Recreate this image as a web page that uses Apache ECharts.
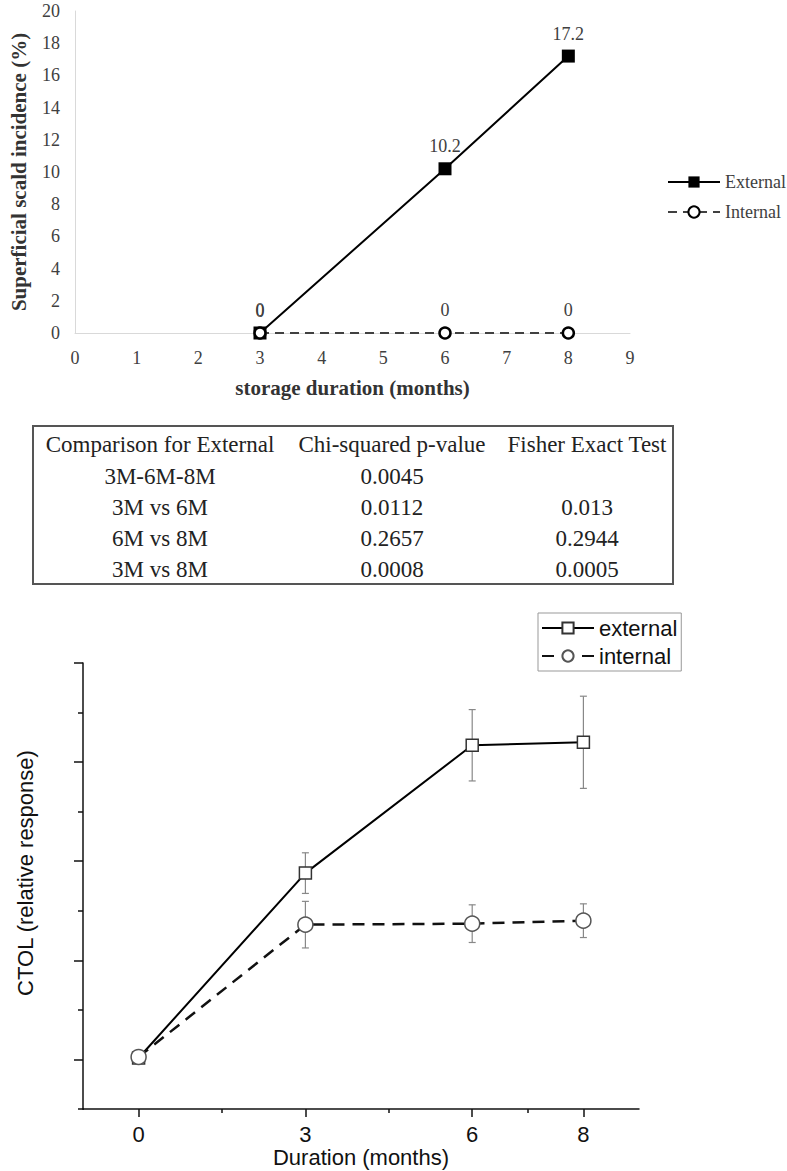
<!DOCTYPE html>
<html>
<head>
<meta charset="utf-8">
<script src="https://cdn.jsdelivr.net/npm/echarts@6/dist/echarts.min.js"></script>
<style>
  html, body { margin: 0; padding: 0; background: #fff; }
  #chart { width: 787px; height: 1171px; }
</style>
</head>
<body>
<div id="chart"></div>
<script>
// ---------- Top chart data ----------
const topMonths = [3, 6, 8];
const topExternal = [0, 10.2, 17.2];
const topInternal = [0, 0, 0];
const topXTicks = [0, 1, 2, 3, 4, 5, 6, 7, 8, 9];
const topYTicks = [0, 2, 4, 6, 8, 10, 12, 14, 16, 18, 20];

// ---------- Table data ----------
const tableHeader = ['Comparison for External', 'Chi-squared p-value', 'Fisher Exact Test'];
const tableComparisons = ['3M-6M-8M', '3M vs 6M', '6M vs 8M', '3M vs 8M'];
const tableChiSquared = ['0.0045', '0.0112', '0.2657', '0.0008'];
const tableFisher = ['', '0.013', '0.2944', '0.0005'];

// ---------- Bottom chart data ----------
const botMonths = [0, 3, 6, 8];
const botExtMean = [0.015, 1.88, 3.17, 3.20];
const botExtErr = [0.03, 0.205, 0.36, 0.465];
const botIntMean = [0.025, 1.36, 1.37, 1.40];
const botIntErr = [0.03, 0.235, 0.19, 0.17];
const botMajorX = [0, 3, 6, 8];
const botMinorX = [1.5, 4.5, 7];
const botMajorY = [0, 1, 2, 3, 4];
const botMinorY = [0.5, 1.5, 2.5, 3.5];

const serif = 'Liberation Serif';
const sans = 'Liberation Sans';

function errData(means, errs) {
  return botMonths.map((m, i) => [m, means[i] - errs[i], means[i] + errs[i]]);
}
function errRender(params, api) {
  const x = api.value(0), lo = api.value(1), hi = api.value(2);
  const p1 = api.coord([x, hi]);
  const p2 = api.coord([x, lo]);
  const w = 3.5;
  const st = { stroke: '#888', lineWidth: 1.2 };
  return {
    type: 'group',
    children: [
      { type: 'line', shape: { x1: p1[0], y1: p1[1], x2: p2[0], y2: p2[1] }, style: st },
      { type: 'line', shape: { x1: p1[0] - w, y1: p1[1], x2: p1[0] + w, y2: p1[1] }, style: st },
      { type: 'line', shape: { x1: p2[0] - w, y1: p2[1], x2: p2[0] + w, y2: p2[1] }, style: st }
    ]
  };
}

// table graphics
const colX = [160, 392, 587];
const rowY = [444, 476, 507, 538, 569];
const tableGraphics = [{
  type: 'rect',
  shape: { x: 33, y: 426, width: 640, height: 158 },
  style: { fill: 'none', stroke: '#555', lineWidth: 2 }
}];
const tableStyle = { fontFamily: serif, fontSize: 23, fill: '#222', align: 'center', verticalAlign: 'middle' };
tableHeader.forEach((t, c) => {
  tableGraphics.push({ type: 'text', x: colX[c], y: rowY[0], style: Object.assign({ text: t }, tableStyle) });
});
tableComparisons.forEach((t, r) => {
  const cells = [t, tableChiSquared[r], tableFisher[r]];
  cells.forEach((v, c) => {
    if (v !== '') tableGraphics.push({ type: 'text', x: colX[c], y: rowY[r + 1], style: Object.assign({ text: v }, tableStyle) });
  });
});
tableGraphics.push({
  type: 'text', x: 25, y: 873, rotation: Math.PI / 2,
  style: { text: 'CTOL (relative response)', fontFamily: sans, fontSize: 22, fill: '#111', align: 'center', verticalAlign: 'middle' }
});
// short extension of the lower x axis line left of the y axis
tableGraphics.push({
  type: 'line', shape: { x1: 78, y1: 1109, x2: 84, y2: 1109 },
  style: { stroke: '#111', lineWidth: 1.5 }
});

const chart = echarts.init(document.getElementById('chart'), null, { renderer: 'svg' });

const topLabel = { show: true, position: 'top', distance: 7, fontFamily: serif, fontSize: 18, color: '#404040' };

const option = {
  animation: false,
  backgroundColor: '#fff',
  grid: [
    { left: 70, right: 157, top: 11, bottom: 838 },
    { left: 83, right: 148, top: 663, bottom: 62 }
  ],
  xAxis: [
    {
      type: 'value', gridIndex: 0, min: 0, max: 9, interval: 1,
      axisLine: { show: true, lineStyle: { color: '#d9d9d9', width: 1 } },
      axisTick: { show: false }, splitLine: { show: false },
      axisLabel: { margin: 16, fontFamily: serif, fontSize: 18, color: '#404040' },
      name: 'storage duration (months)', nameLocation: 'middle', nameGap: 44,
      nameTextStyle: { fontFamily: serif, fontSize: 21, fontWeight: 'bold', color: '#333' }
    },
    {
      type: 'value', gridIndex: 1, min: -1, max: 9, position: 'bottom',
      axisLine: { show: true, onZero: false, lineStyle: { color: '#111', width: 1.5 } },
      axisTick: { show: true, customValues: botMajorX, length: 8, lineStyle: { color: '#111', width: 1.5 } },
      axisLabel: { customValues: botMajorX, margin: 14, fontFamily: sans, fontSize: 22, color: '#111' },
      splitLine: { show: false },
      name: 'Duration (months)', nameLocation: 'middle', nameGap: 37,
      nameTextStyle: { fontFamily: sans, fontSize: 22, color: '#111' }
    },
    {
      type: 'value', gridIndex: 1, min: -1, max: 9, position: 'bottom', offset: 0,
      axisLine: { show: false, onZero: false },
      axisTick: { show: true, customValues: botMinorX, length: 4, lineStyle: { color: '#111', width: 1.5 } },
      axisLabel: { show: false }, splitLine: { show: false }
    }
  ],
  yAxis: [
    {
      type: 'value', gridIndex: 0, min: 0, max: 20, interval: 2,
      axisLine: { show: true, lineStyle: { color: '#d9d9d9', width: 1 } },
      axisTick: { show: false }, splitLine: { show: false },
      axisLabel: { margin: 15, fontFamily: serif, fontSize: 18, color: '#404040' },
      name: 'Superficial scald incidence (%)', nameLocation: 'middle', nameGap: 46,
      nameTextStyle: { fontFamily: serif, fontSize: 21, fontWeight: 'bold', color: '#333' }
    },
    {
      type: 'value', gridIndex: 1, min: -0.5, max: 4, position: 'left',
      axisLine: { show: true, onZero: false, lineStyle: { color: '#111', width: 1.5 } },
      axisTick: { show: true, customValues: botMajorY, length: 9, lineStyle: { color: '#111', width: 1.5 } },
      axisLabel: { show: false }, splitLine: { show: false }
    },
    {
      type: 'value', gridIndex: 1, min: -0.5, max: 4, position: 'left', offset: 0,
      axisLine: { show: false, onZero: false },
      axisTick: { show: true, customValues: botMinorY, length: 5, lineStyle: { color: '#111', width: 1.5 } },
      axisLabel: { show: false }, splitLine: { show: false }
    }
  ],
  legend: [
    {
      data: ['External', 'Internal'], orient: 'vertical', left: 662, top: 168,
      itemWidth: 52, itemHeight: 14, itemGap: 12,
      textStyle: { fontFamily: serif, fontSize: 18, color: '#404040' },
      selectedMode: false
    },
    {
      data: ['external', 'internal'], orient: 'vertical', left: 538, top: 613,
      itemWidth: 52, itemHeight: 14, itemGap: 6,
      padding: [4, 4, 4, 3],
      borderColor: '#999', borderWidth: 1,
      textStyle: { fontFamily: sans, fontSize: 22, color: '#111' },
      selectedMode: false
    }
  ],
  graphic: tableGraphics,
  series: [
    {
      name: 'External', type: 'line', xAxisIndex: 0, yAxisIndex: 0,
      data: topMonths.map((m, i) => [m, topExternal[i]]),
      symbol: 'rect', symbolSize: 13,
      itemStyle: { color: '#000' },
      lineStyle: { color: '#000', width: 2 },
      label: topLabel, z: 3
    },
    {
      name: 'Internal', type: 'line', xAxisIndex: 0, yAxisIndex: 0,
      data: topMonths.map((m, i) => [m, topInternal[i]]),
      symbol: 'circle', symbolSize: 11,
      itemStyle: { color: '#fff', borderColor: '#000', borderWidth: 2.5 },
      lineStyle: { color: '#404040', width: 2, type: [9, 6] },
      label: topLabel, z: 4
    },
    {
      name: 'extErr', type: 'custom', xAxisIndex: 1, yAxisIndex: 1,
      data: errData(botExtMean, botExtErr), renderItem: errRender,
      encode: { x: 0, y: [1, 2] }, z: 1, silent: true
    },
    {
      name: 'intErr', type: 'custom', xAxisIndex: 1, yAxisIndex: 1,
      data: errData(botIntMean, botIntErr), renderItem: errRender,
      encode: { x: 0, y: [1, 2] }, z: 1, silent: true
    },
    {
      name: 'external', type: 'line', xAxisIndex: 1, yAxisIndex: 1,
      data: botMonths.map((m, i) => [m, botExtMean[i]]),
      symbol: 'rect', symbolSize: 12,
      itemStyle: { color: '#fff', borderColor: '#333', borderWidth: 1.5 },
      lineStyle: { color: '#000', width: 2 }, z: 3
    },
    {
      name: 'internal', type: 'line', xAxisIndex: 1, yAxisIndex: 1,
      data: botMonths.map((m, i) => [m, botIntMean[i]]),
      symbol: 'circle', symbolSize: 15,
      itemStyle: { color: '#fff', borderColor: '#555', borderWidth: 1.5 },
      lineStyle: { color: '#111', width: 2.5, type: [12, 8] }, z: 4
    }
  ]
};
chart.setOption(option);
</script>
</body>
</html>
